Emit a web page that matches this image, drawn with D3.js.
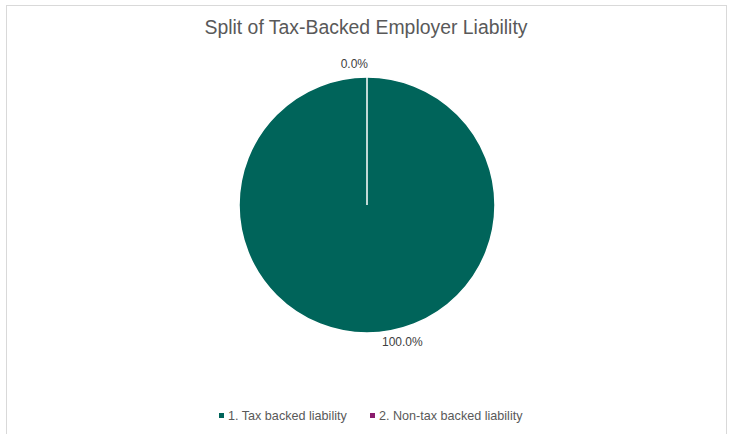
<!DOCTYPE html>
<html>
<head>
<meta charset="utf-8">
<script src="https://cdn.jsdelivr.net/npm/d3@7"></script>
<style>
	body { margin: 0; background: #fff; }
	svg { display: block; font-family: "Liberation Sans", Arial, sans-serif; }
</style>
</head>
<body>
<div id="chart"></div>
<script>
// chart values
var categories = ['1. Tax backed liability', '2. Non-tax backed liability'];
var values = [100, 0];
var labels = ['100.0%', '0.0%'];
var colours = ['#00645a', '#8a1c6c'];

var width = 731, height = 434,
	cx = 367, cy = 205, radius = 128;

var svg = d3.select('#chart').append('svg')
	.attr('width', width)
	.attr('height', height);

// chart area border
svg.append('rect')
	.attr('x', 6.5).attr('y', 5.5)
	.attr('width', 720).attr('height', 440)
	.attr('fill', '#fff')
	.attr('stroke', '#d9d9d9')
	.attr('stroke-width', 1);

// title
svg.append('text')
	.attr('x', 366).attr('y', 34)
	.attr('text-anchor', 'middle')
	.attr('font-size', 19.4)
	.attr('fill', '#595959')
	.text('Split of Tax-Backed Employer Liability');

var data = categories.map(function (c, i) {
	return { name: c, value: values[i], label: labels[i], colour: colours[i] };
});

var pie = d3.pie()
	.sort(null)
	.value(function (d) { return d.value; });

var arc = d3.arc().innerRadius(0).outerRadius(radius);

var g = svg.append('g')
	.attr('transform', 'translate(' + cx + ',' + cy + ')');

var arcs = pie(data);

g.selectAll('.slice')
	.data(arcs).enter()
	.append('path')
	.attr('class', 'slice')
	.attr('d', arc)
	.attr('fill', function (d) { return d.data.colour; })
	.attr('stroke', '#fff')
	.attr('stroke-width', 1.5);

// data labels outside end, Excel style
g.selectAll('.label')
	.data(arcs).enter()
	.append('text')
	.attr('class', 'label')
	.attr('font-size', 12)
	.attr('fill', '#404040')
	.attr('text-anchor', function (d) {
		return d.endAngle - d.startAngle < 0.01 ? 'end' : 'start';
	})
	.attr('x', function (d) {
		var a = (d.startAngle + d.endAngle) / 2;
		var x = Math.sin(a) * (radius + 10);
		return d.endAngle - d.startAngle < 0.01 ? x + 1 : x + 15;
	})
	.attr('y', function (d) {
		var a = (d.startAngle + d.endAngle) / 2;
		var y = -Math.cos(a) * (radius + 10);
		return y < 0 ? y + 1 : y + 3;
	})
	.text(function (d) { return d.data.label; });

// legend
var legendX = [219, 370];
var legend = svg.selectAll('.legend')
	.data(data).enter()
	.append('g')
	.attr('class', 'legend')
	.attr('transform', function (d, i) { return 'translate(' + legendX[i] + ',413)'; });

legend.append('rect')
	.attr('width', 5).attr('height', 5)
	.attr('fill', function (d) { return d.colour; });

legend.append('text')
	.attr('x', 9).attr('y', 7)
	.attr('font-size', 12.6)
	.attr('fill', '#595959')
	.text(function (d) { return d.name; });
</script>
</body>
</html>
